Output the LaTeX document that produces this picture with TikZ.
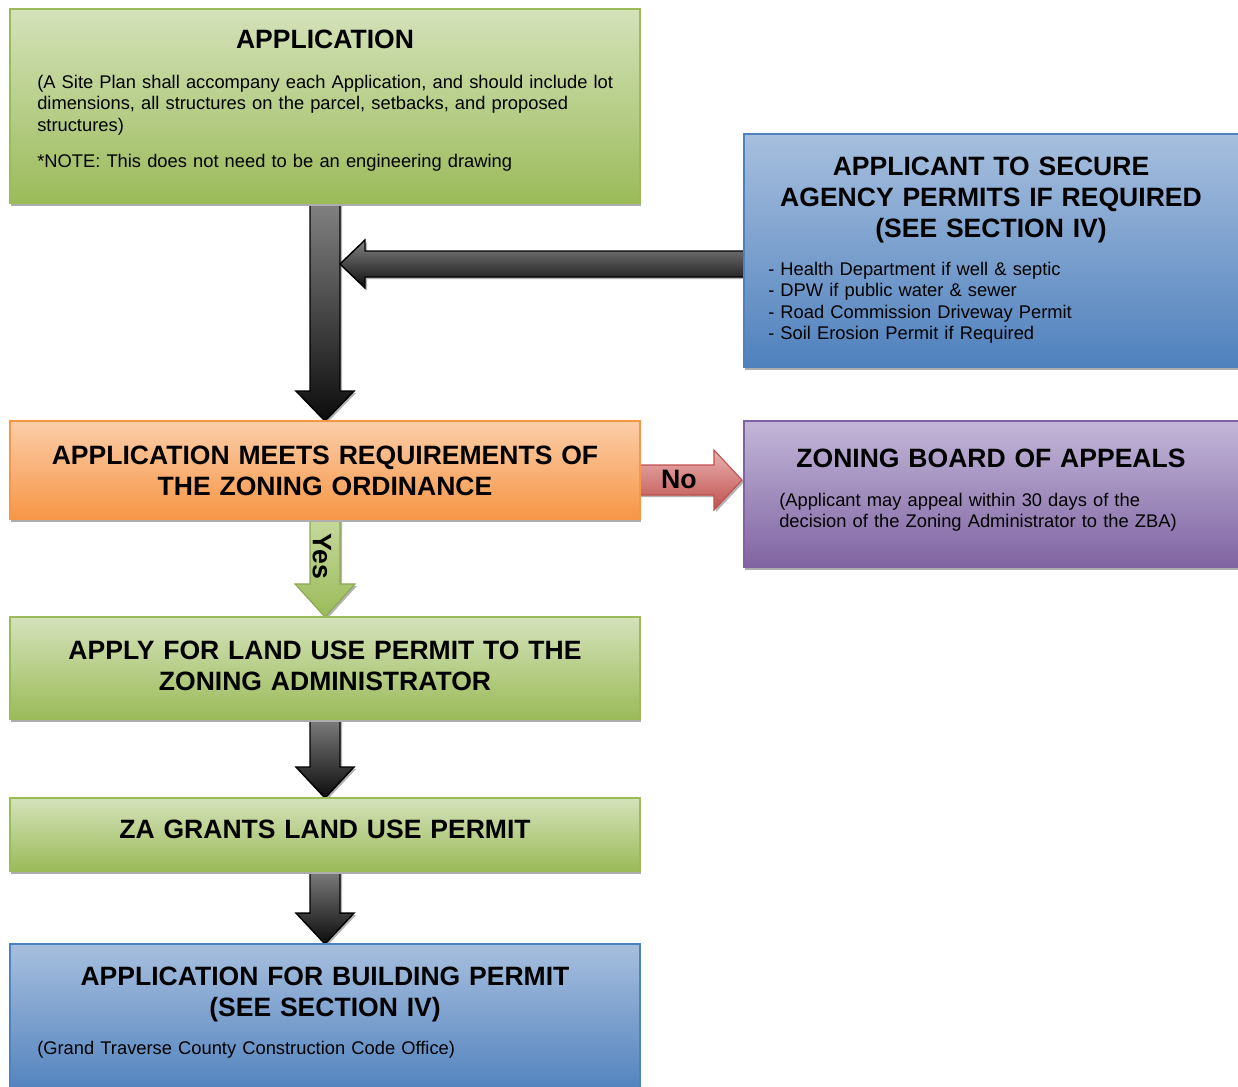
\documentclass[tikz,border=0pt]{standalone}
\usepackage{fontspec}
\setmainfont{Liberation Sans}
\usetikzlibrary{calc,shadows}
\pgfdeclarelayer{bg}
\pgfsetlayers{bg,main}
\definecolor{gT}{RGB}{212,226,186}
\definecolor{gB}{RGB}{155,187,89}
\definecolor{oT}{RGB}{251,205,168}
\definecolor{oB}{RGB}{247,150,70}
\definecolor{bT}{RGB}{167,191,222}
\definecolor{bB}{RGB}{79,129,189}
\definecolor{pT}{RGB}{194,182,216}
\definecolor{pB}{RGB}{128,100,162}
\definecolor{rT}{RGB}{232,178,177}
\definecolor{rB}{RGB}{192,80,77}
\definecolor{yT}{RGB}{200,218,160}
\definecolor{dT}{RGB}{132,132,132}
\definecolor{dB}{RGB}{12,12,12}
\begin{document}
\begin{tikzpicture}[x=0.75pt,y=-0.75pt,
  box/.style={rectangle, inner sep=0pt, outer sep=0pt, anchor=north west, line width=1.2pt,
    drop shadow={shadow xshift=1pt, shadow yshift=-2.25pt, opacity=1, fill=black!32}},
  gbox/.style={box, draw=gB, top color=gT, bottom color=gB},
  obox/.style={box, draw=oB, top color=oT, bottom color=oB},
  bbox/.style={box, draw=bB, top color=bT, bottom color=bB},
  pbox/.style={box, draw=pB, top color=pT, bottom color=pB},
  ashadow/.style={drop shadow={shadow xshift=1.5pt, shadow yshift=-1.5pt, opacity=1, fill=black!30}},
  darrow/.style={draw=black, line width=1.1pt, line join=miter, top color=dT, bottom color=dB, ashadow},
  rarrow/.style={draw=rB, line width=0.8pt, top color=rT, bottom color=rB, ashadow},
  yarrow/.style={draw=gB!90!black, line width=0.8pt, top color=yT, bottom color=gB, ashadow},
  ttl/.style={font=\bfseries\fontsize{19.9}{23.25}\selectfont, inner sep=0pt, text width=480pt, align=center, anchor=base},
  bdy/.style={font=\fontsize{13.75}{16.2}\selectfont, inner sep=0pt, text width=460pt, align=left, anchor=base west},
  lbl/.style={font=\bfseries\fontsize{20}{23.25}\selectfont, inner sep=0pt}
]
\useasboundingbox (0,0) rectangle (1238,1086);

% boxes
\node[gbox, minimum width=472.5pt, minimum height=145.5pt] (app) at (10,9) {};
\node[bbox, minimum width=375pt, minimum height=174.75pt] (agency) at (744,134) {};
\node[obox, minimum width=472.5pt, minimum height=73.5pt] (ord) at (10,421) {};
\node[pbox, minimum width=375pt, minimum height=109.5pt] (zba) at (744,421) {};
\node[gbox, minimum width=472.5pt, minimum height=76.5pt] (apply) at (10,617) {};
\node[gbox, minimum width=472.5pt, minimum height=54.75pt] (grants) at (10,798) {};
\node[bbox, minimum width=472.5pt, minimum height=114pt] (bldg) at (10,944) {};

% texts
\node[ttl] (appT) at (325,48) {APPLICATION};
\node[bdy] (appB) at (37,88) {(A Site Plan shall accompany each Application, and should include lot\\dimensions, all structures on the parcel, setbacks, and proposed\\structures)};
\node[bdy] (appN) at (37,167) {*NOTE: This does not need to be an engineering drawing};

\node[ttl] (agT) at (991,175) {APPLICANT TO SECURE\\AGENCY PERMITS IF REQUIRED\\(SEE SECTION IV)};
\node[bdy] (agB) at (768,275) {- Health Department if well \& septic\\- DPW if public water \& sewer\\- Road Commission Driveway Permit\\- Soil Erosion Permit if Required};

\node[ttl] (ordT) at (325,464) {APPLICATION MEETS REQUIREMENTS OF\\THE ZONING ORDINANCE};

\node[ttl] (zbaT) at (991,467) {ZONING BOARD OF APPEALS};
\node[bdy] (zbaB) at (779,506) {(Applicant may appeal within 30 days of the\\decision of the Zoning Administrator to the ZBA)};

\node[ttl] (applyT) at (325,659) {APPLY FOR LAND USE PERMIT TO THE\\ZONING ADMINISTRATOR};
\node[ttl] (grantsT) at (325,838) {ZA GRANTS LAND USE PERMIT};
\node[ttl] (bldgT) at (325,985) {APPLICATION FOR BUILDING PERMIT\\(SEE SECTION IV)};
\node[bdy] (bldgB) at (37,1054) {(Grand Traverse County Construction Code Office)};

% connectors
\coordinate (join) at ($(app.south)+(15,61)$);
\coordinate (noTip) at ($(ord.east)+(102,10)$);
\begin{pgfonlayer}{bg}
\path[darrow] ($(app.south)+(-15,-5)$) -- ($(ord.north)+(-15,-30)$) -- ($(ord.north)+(-29,-30)$) -- (ord.north)
  -- ($(ord.north)+(29,-30)$) -- ($(ord.north)+(15,-30)$) -- ($(app.south)+(15,-5)$) -- cycle;
\path[darrow] (join) -- ++(25,-24) -- ++(0,11) -- ($(agency.west |- join)+(5,-13)$) -- ++(0,26)
  -- ($(join)+(25,13)$) -- ++(0,11) -- cycle;
\path[rarrow] ($(ord.east)+(-5,-5)$) -- ($(noTip)+(-28,-15)$) -- ($(noTip)+(-28,-30)$) -- (noTip)
  -- ($(noTip)+(-28,30)$) -- ($(noTip)+(-28,15)$) -- ($(ord.east)+(-5,25)$) -- cycle;
\path[yarrow] ($(ord.south)+(-15,-5)$) -- ($(apply.north)+(-15,-33)$) -- ($(apply.north)+(-30,-33)$) -- (apply.north)
  -- ($(apply.north)+(30,-33)$) -- ($(apply.north)+(15,-33)$) -- ($(ord.south)+(15,-5)$) -- cycle;
\path[darrow] ($(apply.south)+(-15,-5)$) -- ($(grants.north)+(-15,-31)$) -- ($(grants.north)+(-29,-31)$) -- (grants.north)
  -- ($(grants.north)+(29,-31)$) -- ($(grants.north)+(15,-31)$) -- ($(apply.south)+(15,-5)$) -- cycle;
\path[darrow] ($(grants.south)+(-15,-5)$) -- ($(bldg.north)+(-15,-31)$) -- ($(bldg.north)+(-29,-31)$) -- (bldg.north)
  -- ($(bldg.north)+(29,-31)$) -- ($(bldg.north)+(15,-31)$) -- ($(grants.south)+(15,-5)$) -- cycle;
\end{pgfonlayer}
\node[lbl] (noL) at (679,479) {No};
\node[lbl, rotate=-90] (yesL) at (322,556) {Yes};
\end{tikzpicture}
\end{document}
